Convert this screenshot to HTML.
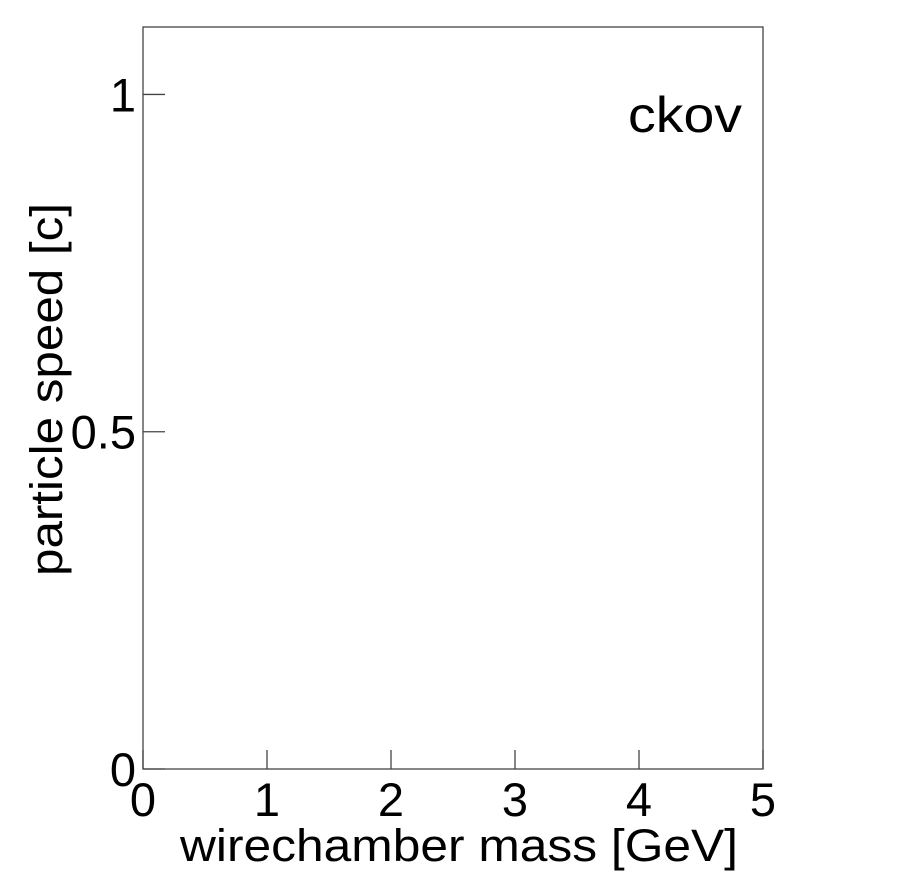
<!DOCTYPE html>
<html><head><meta charset="utf-8"><style>body{margin:0;background:#fff}svg{display:block}</style></head>
<body>
<svg width="898" height="875" xmlns="http://www.w3.org/2000/svg" font-family="Liberation Sans, sans-serif">
<rect width="898" height="875" fill="#fff"/>
<rect x="143" y="27" width="620" height="742" fill="none" stroke="#444" stroke-width="1.3"/>
<g id="axes"></g>
<text x="738" y="861" font-size="45" text-anchor="end" textLength="558" lengthAdjust="spacingAndGlyphs">wirechamber mass [GeV]</text>
<text transform="translate(62,576) rotate(-90)" font-size="45" textLength="373" lengthAdjust="spacingAndGlyphs">particle speed [c]</text>
<text x="628" y="132" font-size="50" textLength="114" lengthAdjust="spacingAndGlyphs">ckov</text>
</svg>
<script>
const xTicks=[0,1,2,3,4,5];
const xLabels=["0","1","2","3","4","5"];
const yTicks=[0,0.5,1];
const yLabels=["0","0.5","1"];
const xMin=0,xMax=5,yMin=0,yMax=1.1;
const L=143,R=763,T=27,B=769;
const sx=v=>L+(v-xMin)/(xMax-xMin)*(R-L);
const sy=v=>B-(v-yMin)/(yMax-yMin)*(B-T);
const g=document.getElementById('axes');
const NS='http://www.w3.org/2000/svg';
xTicks.forEach((v,i)=>{
  const l=document.createElementNS(NS,'line');
  
  
  l.setAttribute('x1',sx(v));l.setAttribute('x2',sx(v));l.setAttribute('y1',B);l.setAttribute('y2',B-19);
  l.setAttribute('stroke','#444');l.setAttribute('stroke-width','1.3');g.appendChild(l);
  const t=document.createElementNS(NS,'text');
  
  
  t.setAttribute('x',sx(v));t.setAttribute('y',816);t.setAttribute('font-size','47');t.setAttribute('text-anchor','middle');
  t.textContent=xLabels[i];g.appendChild(t);
});
yTicks.forEach((v,i)=>{
  const l=document.createElementNS(NS,'line');
  
  
  l.setAttribute('x1',L);l.setAttribute('x2',L+22);l.setAttribute('y1',sy(v));l.setAttribute('y2',sy(v));
  l.setAttribute('stroke','#444');l.setAttribute('stroke-width','1.3');g.appendChild(l);
  const t=document.createElementNS(NS,'text');
  
  
  t.setAttribute('x',136);t.setAttribute('y',sy(v)+17);t.setAttribute('font-size','47');t.setAttribute('text-anchor','end');
  t.textContent=yLabels[i];g.appendChild(t);
});
</script>
</body></html>
